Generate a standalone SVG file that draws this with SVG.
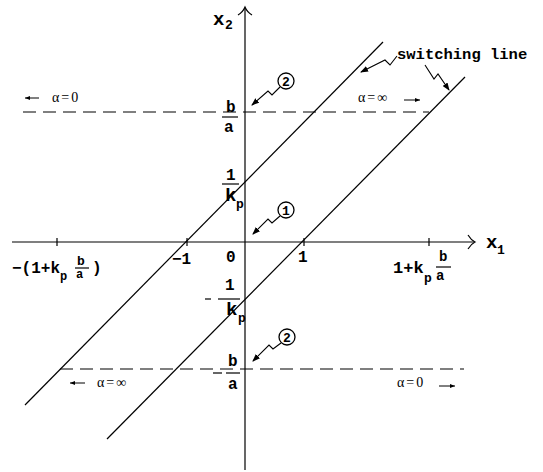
<svg xmlns="http://www.w3.org/2000/svg" width="543" height="472" viewBox="0 0 543 472">
<style>
.ln{stroke:#000;stroke-width:1.2;fill:none}
.dash{stroke:#000;stroke-width:1.2;fill:none;stroke-dasharray:13 7}
.lead{stroke:#000;stroke-width:1.1;fill:none;marker-end:url(#ah)}
.sm{stroke:#000;stroke-width:1;fill:none;marker-end:url(#sa)}
.m{font-family:"Liberation Mono","DejaVu Sans Mono",monospace;font-weight:bold;fill:#000}
.s{font-family:"Liberation Serif","DejaVu Serif",serif;fill:#000;font-size:14px;letter-spacing:2px}
.c{fill:#fff;stroke:#000;stroke-width:1.3}
</style>
<defs>
<marker id="ah" markerWidth="8" markerHeight="6" refX="7" refY="3" orient="auto" markerUnits="userSpaceOnUse">
<path d="M0,0 L8,3 L0,6 Z" fill="#000"/>
</marker>
<marker id="sa" markerWidth="5" markerHeight="4" refX="5" refY="2" orient="auto" markerUnits="userSpaceOnUse">
<path d="M0,0 L5,2 L0,4 Z" fill="#000"/>
</marker>
</defs>
<rect width="543" height="472" fill="#fff"/>
<g id="axes">
<line class="ln" x1="245" y1="8" x2="245" y2="470"/>
<path class="ln" d="M238,15 Q243,12 245,7 Q247,12 252,15"/>
<line class="ln" x1="12" y1="242" x2="474" y2="242"/>
<path class="ln" d="M468,235 Q471,240 475,242 Q471,244 468,249"/>
<line class="ln" x1="57" y1="238" x2="57" y2="246"/>
<line class="ln" x1="187" y1="238" x2="187" y2="246"/>
<line class="ln" x1="304" y1="238" x2="304" y2="246"/>
<line class="ln" x1="429" y1="238" x2="429" y2="246"/>
<text class="m" x="213" y="25" font-size="19">x</text><text class="m" x="225" y="29" font-size="13">2</text>
<text class="m" x="486" y="248" font-size="19">x</text><text class="m" x="497" y="254" font-size="13">1</text>
</g>
<g id="switching-lines">
<line class="ln" x1="25" y1="405" x2="383" y2="42"/>
<line class="ln" x1="107" y1="439" x2="465" y2="77"/>
</g>
<g id="alpha-lines">
<line class="dash" x1="23" y1="112" x2="429" y2="112"/>
<line class="dash" x1="60" y1="369" x2="464" y2="369"/>
</g>
<g id="tick-labels">
<text class="m" x="226" y="112" font-size="16">b</text>
<line class="ln" x1="222" y1="117" x2="238" y2="117"/>
<text class="m" x="224" y="132" font-size="16">a</text>
<text class="m" x="226" y="180" font-size="16">1</text>
<line class="ln" x1="222" y1="184" x2="239" y2="184"/>
<text class="m" x="225" y="201" font-size="19">k</text><text class="m" x="236" y="208" font-size="13">p</text>
<text class="m" x="225" y="290" font-size="16">1</text>
<line class="ln" x1="205" y1="299" x2="211" y2="299"/>
<line class="ln" x1="218" y1="299" x2="240" y2="299"/>
<text class="m" x="226" y="315" font-size="19">k</text><text class="m" x="238" y="322" font-size="13">p</text>
<line class="ln" x1="213" y1="373" x2="222" y2="373"/>
<text class="m" x="228" y="366" font-size="16">b</text>
<line class="ln" x1="226" y1="373" x2="240" y2="373"/>
<text class="m" x="228" y="389" font-size="16">a</text>
<text class="m" x="172" y="264" font-size="16">−1</text>
<text class="m" x="226" y="262" font-size="16">0</text>
<text class="m" x="298" y="262" font-size="16">1</text>
<text class="m" x="12" y="273" font-size="16">−(1+k</text>
<text class="m" x="60" y="280" font-size="12">p</text>
<text class="m" x="77" y="265" font-size="13">b</text>
<line class="ln" x1="75" y1="268" x2="89" y2="268"/>
<text class="m" x="76" y="278" font-size="12">a</text>
<text class="m" x="92" y="273" font-size="16">)</text>
<text class="m" x="393" y="273" font-size="17">1+k</text>
<text class="m" x="424" y="282" font-size="13">p</text>
<text class="m" x="439" y="261" font-size="14">b</text>
<line class="ln" x1="436" y1="267" x2="451" y2="267"/>
<text class="m" x="436" y="280" font-size="14">a</text>
</g>
<g id="alpha-labels">
<line class="sm" x1="39" y1="98" x2="25" y2="98"/>
<text class="s" x="52" y="102">α=0</text>
<text class="s" x="358" y="102">α=∞</text>
<line class="sm" x1="404" y1="100" x2="420" y2="100"/>
<line class="sm" x1="85" y1="383" x2="70" y2="383"/>
<text class="s" x="97" y="387">α=∞</text>
<text class="s" x="397" y="387">α=0</text>
<line class="sm" x1="439" y1="386" x2="455" y2="386"/>
</g>
<g id="annotation-switching">
<text class="m" x="397" y="59" font-size="15.5">switching line</text>
<path class="lead" d="M397,56 L390,65 L385,60 L361,72"/>
<path class="lead" d="M425,65 L434,79 L438,74 L449,90"/>
</g>
<g id="annotation-2-upper">
<circle class="c" cx="286" cy="81" r="8"/>
<text class="m" x="286" y="86" font-size="13" text-anchor="middle">2</text>
<path class="lead" d="M280,87 L272,95 L268,91 L252,105"/>
</g>
<g id="annotation-1">
<circle class="c" cx="286" cy="210" r="8"/>
<text class="m" x="286" y="215" font-size="13" text-anchor="middle">1</text>
<path class="lead" d="M280,216 L272,223 L268,219 L253,234"/>
</g>
<g id="annotation-2-lower">
<circle class="c" cx="287" cy="337" r="8"/>
<text class="m" x="287" y="342" font-size="13" text-anchor="middle">2</text>
<path class="lead" d="M281,343 L273,349 L269,345 L253,361"/>
</g>
</svg>
